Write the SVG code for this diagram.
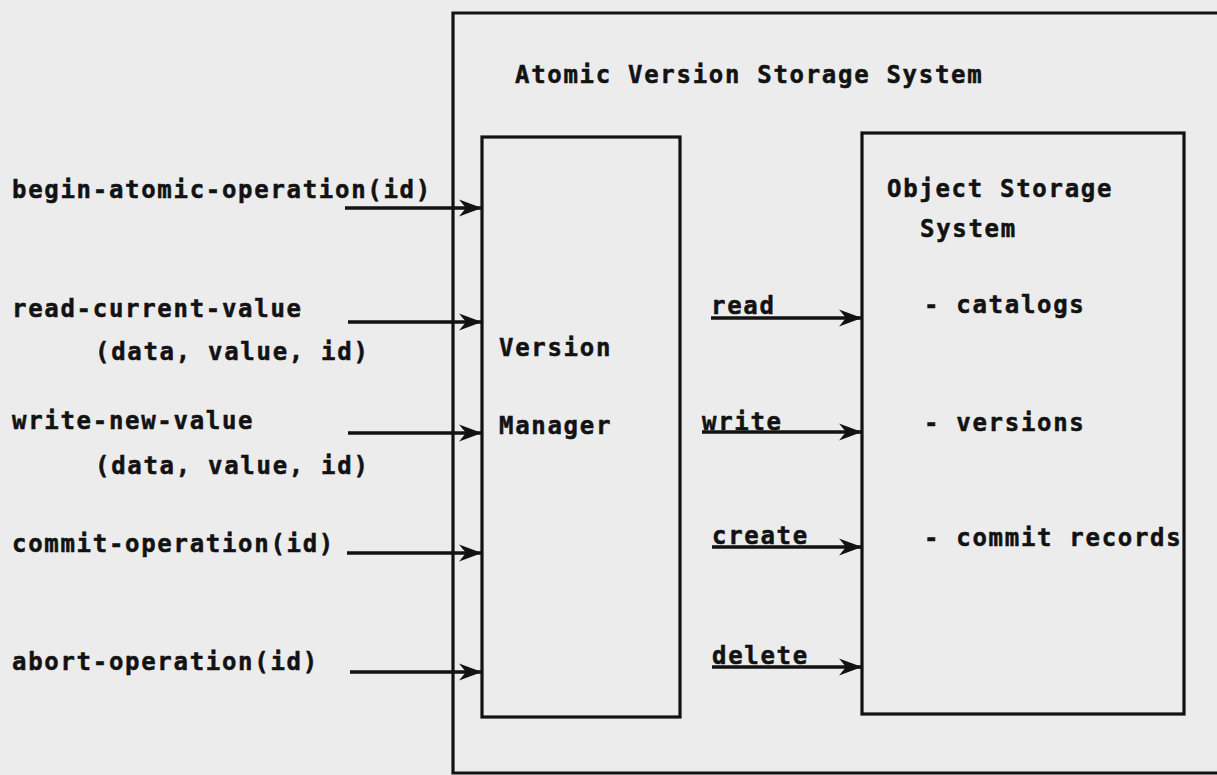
<svg xmlns="http://www.w3.org/2000/svg" width="1217" height="775" viewBox="0 0 1217 775">
  <defs>
    <style>
      .t { font-family: "DejaVu Sans Mono", "Liberation Mono", monospace; font-weight: bold; font-size: 24px; letter-spacing: 1.7px; fill: #121212; stroke: #121212; stroke-width: 0.5px; }
      .box { fill: none; stroke: #121212; stroke-width: 3.2; }
      .arr { fill: none; stroke: #121212; stroke-width: 3.4; marker-end: url(#ah); }
    </style>
    <marker id="ah" markerUnits="userSpaceOnUse" markerWidth="26" markerHeight="20" refX="23" refY="10" orient="auto">
      <path d="M0,1.5 L23,10 L0,18.5 L7,10 Z" fill="#121212"/>
    </marker>
  </defs>
  <rect x="0" y="0" width="1217" height="775" fill="#ececec"/>

  <g id="atomic-version-storage-system">
    <path class="box" d="M1217,13 H453 V773 H1217" stroke-width="3.6"/>
    <text class="t" x="515" y="83">Atomic Version Storage System</text>
  </g>

  <g id="version-manager">
    <rect class="box" x="482" y="137" width="198" height="580"/>
    <text class="t" x="499" y="356">Version</text>
    <text class="t" x="499" y="434">Manager</text>
  </g>

  <g id="object-storage-system">
    <rect class="box" x="862" y="133" width="322" height="581"/>
    <text class="t" x="887" y="197">Object Storage</text>
    <text class="t" x="920" y="237">System</text>
    <text class="t" x="924" y="313">- catalogs</text>
    <text class="t" x="924" y="431">- versions</text>
    <text class="t" x="924" y="546">- commit records</text>
  </g>

  <g id="operations">
    <text class="t" x="12" y="198">begin-atomic-operation(id)</text>
    <text class="t" x="12" y="317">read-current-value</text>
    <text class="t" x="95" y="360">(data, value, id)</text>
    <text class="t" x="12" y="429">write-new-value</text>
    <text class="t" x="95" y="474">(data, value, id)</text>
    <text class="t" x="12" y="552">commit-operation(id)</text>
    <text class="t" x="12" y="670">abort-operation(id)</text>
  </g>

  <g id="calls">
    <text class="t" x="711" y="314">read</text>
    <text class="t" x="702" y="430">write</text>
    <text class="t" x="712" y="544">create</text>
    <text class="t" x="712" y="664">delete</text>
  </g>

  <g id="connectors">
    <line class="arr" x1="345" y1="208" x2="482" y2="208"/>
    <line class="arr" x1="348" y1="322" x2="482" y2="322"/>
    <line class="arr" x1="348" y1="433" x2="482" y2="433"/>
    <line class="arr" x1="347" y1="553" x2="482" y2="553"/>
    <line class="arr" x1="350" y1="672" x2="482" y2="672"/>
    <line class="arr" x1="711" y1="318" x2="862" y2="318"/>
    <line class="arr" x1="702" y1="432" x2="862" y2="432"/>
    <line class="arr" x1="712" y1="547" x2="862" y2="547"/>
    <line class="arr" x1="712" y1="667" x2="862" y2="667"/>
  </g>
</svg>
